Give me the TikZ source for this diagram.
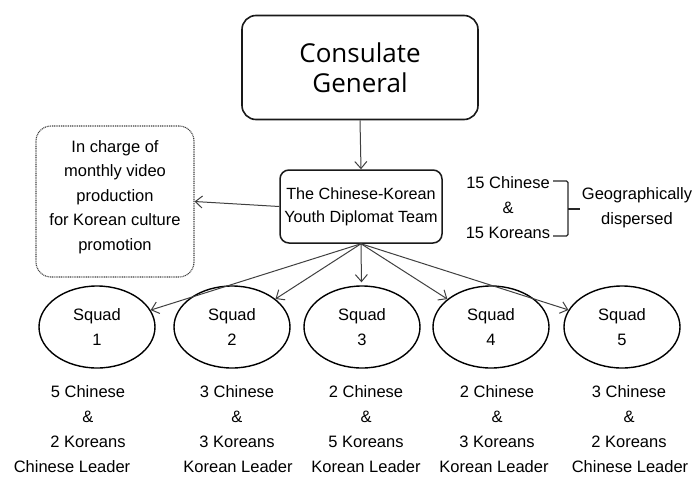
\documentclass[tikz,border=0pt]{standalone}
\usepackage{fontspec}
\setmainfont{Liberation Sans}
\newfontfamily\titlefont{Open Sans}
\usetikzlibrary{arrows.meta,shapes.geometric}
\tikzset{
  txt/.style={font=\fontsize{16.5}{25}\selectfont, align=center, inner sep=0pt, text=black},
  conn/.style={draw=black!75, line width=1pt, -{Straight Barb[length=7pt,width=12pt]}},
  squad/.style={ellipse, draw=black, line width=1.4pt, minimum width=116pt, minimum height=82pt, inner sep=0pt, txt},
}
\begin{document}
\begin{tikzpicture}[x=1pt,y=-1pt]
\useasboundingbox (0,0) rectangle (699,477);
% Consulate General
\node[draw=black!90, line width=1.6pt, rounded corners=14pt, minimum width=236pt, minimum height=104pt, inner sep=0pt,
      font=\titlefont\fontsize{26}{30}\selectfont, align=center] (cg) at (360,67.5) {Consulate\\General};
% team box
\node[draw=black!90, line width=1.5pt, rounded corners=9pt, minimum width=162pt, minimum height=73pt, inner sep=0pt,
      txt, font=\fontsize{16.2}{23}\selectfont] (team) at (361,206.5) {The Chinese-Korean\\Youth Diplomat Team};
% promo box
\node[draw=black!75, line width=1.1pt, dash pattern=on 1pt off 0.8pt, rounded corners=15pt, minimum width=158pt, minimum height=151pt, inner sep=0pt] (promo) at (115,201.5) {};
\node[txt, font=\fontsize{16.5}{24.5}\selectfont] (promotxt) at (115,197) {In charge of\\monthly video\\production\\for Korean culture\\promotion};
% right side
\node[txt] (counts) at (508,207.5) {15 Chinese\\\&\\15 Koreans};
\node[txt] (geo) at (637,208) {Geographically\\dispersed};
\coordinate (bt1) at (553,181);
\coordinate (bt2) at (568,181);
\coordinate (bt3) at (568,236);
\coordinate (bt4) at (553,236);
\coordinate (bm1) at (568,209);
\coordinate (bm2) at (580,209);
\draw[black!85, line width=1.1pt, rounded corners=1.5pt] (bt1) -- (bt2) -- (bt3) -- (bt4);
\draw[black!85, line width=1.1pt] (bm1) -- (bm2);
% squads
\node[squad] (s1) at (97,327) {Squad\\1};
\node[squad] (s2) at (232,327) {Squad\\2};
\node[squad] (s3) at (362,327) {Squad\\3};
\node[squad] (s4) at (491,327) {Squad\\4};
\node[squad] (s5) at (622,327) {Squad\\5};
% connectors
\draw[conn] (cg.south) -- (team.north);
\draw[conn] (team.west) -- (promo.east);
\draw[conn] (team.south) -- (s1);
\draw[conn] (team.south) -- (s2);
\draw[conn, shorten >=3pt] (team.south) -- (s3);
\draw[conn] (team.south) -- (s4);
\draw[conn] (team.south) -- (s5);
% member texts
\node[txt] (c1) at (88,417) {5 Chinese\\\&\\2 Koreans};
\node[txt] (c2) at (237,417) {3 Chinese\\\&\\3 Koreans};
\node[txt] (c3) at (366,417) {2 Chinese\\\&\\5 Koreans};
\node[txt] (c4) at (497,417) {2 Chinese\\\&\\3 Koreans};
\node[txt] (c5) at (629,417) {3 Chinese\\\&\\2 Koreans};
\node[txt, anchor=base] (l1) at (72,472.5) {Chinese Leader};
\node[txt, anchor=base] (l2) at (238,472.5) {Korean Leader};
\node[txt, anchor=base] (l3) at (366,472.5) {Korean Leader};
\node[txt, anchor=base] (l4) at (494,472.5) {Korean Leader};
\node[txt, anchor=base] (l5) at (630,472.5) {Chinese Leader};
\end{tikzpicture}
\end{document}
